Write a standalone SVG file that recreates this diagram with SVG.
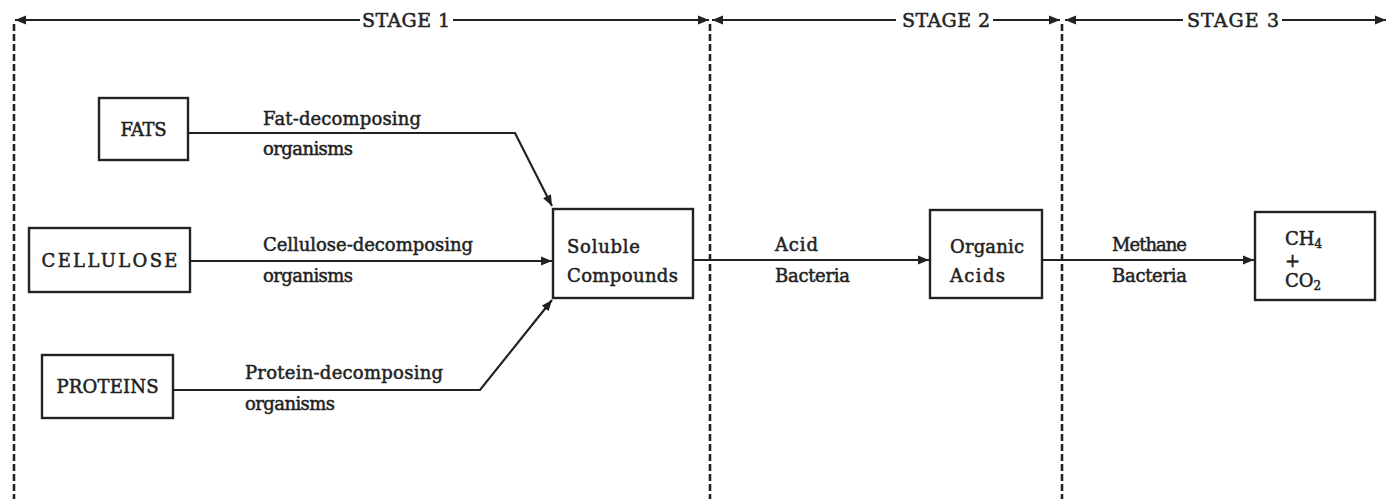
<svg xmlns="http://www.w3.org/2000/svg" width="1387" height="499" viewBox="0 0 1387 499">
<defs>
<marker id="ah" viewBox="0 0 10 10" refX="10" refY="5" markerWidth="5" markerHeight="5" orient="auto-start-reverse" markerUnits="strokeWidth">
<path d="M0,1 L10,5 L0,9 z" fill="#222"/>
</marker>
<style>
.box{fill:#fff;stroke:#222;stroke-width:2.4}
.ln{fill:none;stroke:#222;stroke-width:2.2}
.dash{fill:none;stroke:#222;stroke-width:2.6;stroke-dasharray:7 3}
text{font-family:"DejaVu Serif","Liberation Serif",serif;fill:#222;font-size:18px;stroke:#222;stroke-width:0.5}
.stg{font-size:19px}
.sub{font-size:12px}
</style>
</defs>
<rect width="1387" height="499" fill="#fff"/>
<g id="stage-header">
<path class="dash" d="M14,24 V499"/>
<path class="dash" d="M710,24 V499"/>
<path class="dash" d="M1062,24 V499"/>
<path class="ln" d="M360,20 H15" marker-end="url(#ah)"/>
<path class="ln" d="M453,20 H709" marker-end="url(#ah)"/>
<path class="ln" d="M896,20 H712" marker-end="url(#ah)"/>
<path class="ln" d="M993,20 H1060" marker-end="url(#ah)"/>
<path class="ln" d="M1183,20 H1065" marker-end="url(#ah)"/>
<path class="ln" d="M1282,20 H1386" marker-end="url(#ah)"/>
<text class="stg" x="406" y="27" text-anchor="middle" textLength="88">STAGE 1</text>
<text class="stg" x="946" y="27" text-anchor="middle" textLength="88">STAGE 2</text>
<text class="stg" x="1233" y="27" text-anchor="middle" textLength="92">STAGE 3</text>
</g>
<g id="connectors">
<path class="ln" d="M188,133 H515 L552,206" marker-end="url(#ah)"/>
<path class="ln" d="M190,261 H552" marker-end="url(#ah)"/>
<path class="ln" d="M173,390 H480 L552,300" marker-end="url(#ah)"/>
<path class="ln" d="M693,260 H929" marker-end="url(#ah)"/>
<path class="ln" d="M1042,260 H1254" marker-end="url(#ah)"/>
<text x="263" y="125" textLength="158">Fat-decomposing</text>
<text x="263" y="155" textLength="90">organisms</text>
<text x="263" y="251" textLength="210">Cellulose-decomposing</text>
<text x="263" y="282" textLength="90">organisms</text>
<text x="245" y="379" textLength="198">Protein-decomposing</text>
<text x="245" y="410" textLength="90">organisms</text>
<text x="775" y="251" textLength="43">Acid</text>
<text x="775" y="282" textLength="75">Bacteria</text>
<text x="1112" y="251" textLength="75">Methane</text>
<text x="1112" y="282" textLength="75">Bacteria</text>
</g>
<g id="fats">
<rect class="box" x="99" y="98" width="89" height="62"/>
<text x="143.5" y="136" text-anchor="middle" textLength="46">FATS</text>
</g>
<g id="cellulose">
<rect class="box" x="29" y="228" width="161" height="64"/>
<text x="109.5" y="267" text-anchor="middle" textLength="136">CELLULOSE</text>
</g>
<g id="proteins">
<rect class="box" x="42" y="355" width="131" height="63"/>
<text x="107.5" y="393" text-anchor="middle" textLength="102">PROTEINS</text>
</g>
<g id="soluble">
<rect class="box" x="553" y="209" width="140" height="89"/>
<text x="567" y="253" textLength="73">Soluble</text>
<text x="567" y="282" textLength="111">Compounds</text>
</g>
<g id="organic">
<rect class="box" x="930" y="210" width="112" height="88"/>
<text x="950" y="253" textLength="74">Organic</text>
<text x="950" y="282" textLength="55">Acids</text>
</g>
<g id="products">
<rect class="box" x="1255" y="212" width="120" height="88"/>
<text x="1285" y="245">CH<tspan class="sub" dy="3">4</tspan></text>
<text x="1285" y="267">+</text>
<text x="1285" y="287">CO<tspan class="sub" dy="3">2</tspan></text>
</g>
</svg>
